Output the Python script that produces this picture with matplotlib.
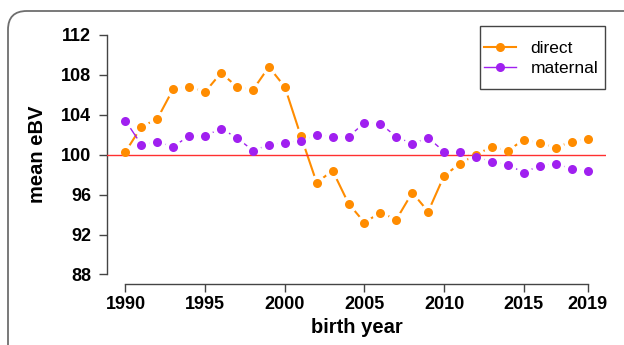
import matplotlib
matplotlib.use("Agg")
import matplotlib.pyplot as plt
import matplotlib.patches as mpatches
from matplotlib.lines import Line2D
import numpy as np

# ── Data ────────────────────────────────────────────────────────────────
years = np.arange(1990, 2020)
direct = [100.3, 102.8, 103.6, 106.6, 106.8, 106.3, 108.2, 106.8, 106.5, 108.8,
          106.8, 101.9, 97.2, 98.4, 95.1, 93.2, 94.2, 93.5, 96.2, 94.3,
          97.9, 99.1, 100.0, 100.8, 100.4, 101.5, 101.2, 100.7, 101.3, 101.6]
maternal = [103.4, 101.0, 101.3, 100.8, 101.9, 101.9, 102.6, 101.7, 100.4, 101.0,
            101.2, 101.4, 102.0, 101.8, 101.8, 103.2, 103.1, 101.8, 101.1, 101.7,
            100.3, 100.3, 99.8, 99.3, 99.0, 98.2, 98.9, 99.1, 98.6, 98.4]
yticks = [88, 92, 96, 100, 104, 108, 112]
xticks = [1990, 1995, 2000, 2005, 2010, 2015, 2019]

ORANGE = "#FF8C00"
PURPLE = "#A020F0"
RED = "#FF3030"
FRAME = "#6E6E6E"
AXIS = "#444444"

plt.rcParams.update({
    "font.family": ["Liberation Sans", "DejaVu Sans"],
    "font.size": 12,
})

W, H = 624, 345
fig = plt.figure(figsize=(W / 100, H / 100), dpi=100)
ax = fig.add_axes([107 / W, 1 - 284 / H, (606 - 107) / W, (284 - 25.4) / H])

# outer rounded frame, cropped at right and bottom
frame = mpatches.FancyBboxPatch((8 / W, -40 / H), 640 / W, (H - 11 + 40) / H,
                                boxstyle="round,pad=0,rounding_size=0.03",
                                transform=fig.transFigure, facecolor="none",
                                edgecolor=FRAME, linewidth=1.3, clip_on=False,
                                mutation_aspect=W / H)
fig.patches.append(frame)

# lines with gaps around the points (like R type="b")
ax.plot(years, direct, color=ORANGE, lw=1.5, zorder=2)
ax.plot(years, maternal, color=PURPLE, lw=1.0, zorder=2)
for s in (direct, maternal):
    ax.plot(years, s, ls="none", marker="o", ms=11, mfc="white", mec="white", zorder=3)
ax.axhline(100, color=RED, lw=1.0, zorder=4)
ax.plot(years, direct, ls="none", marker="o", ms=6.5, mfc=ORANGE, mec="none", zorder=5)
ax.plot(years, maternal, ls="none", marker="o", ms=6.5, mfc=PURPLE, mec="none", zorder=5)

ax.set_xlim(1990 - 0.04 * 29, 2019 + 0.04 * 29)
ax.set_ylim(88 - 0.96, 112 + 0.96)
ax.set_xticks(xticks)
ax.set_yticks(yticks)
ax.set_xticklabels([str(t) for t in xticks], fontsize=13, fontweight="bold")
ax.set_yticklabels([str(t) for t in yticks], fontsize=13, fontweight="bold")
ax.tick_params(axis="both", direction="out", length=5.5, width=1, color=AXIS)
ax.tick_params(axis="y", pad=6)
ax.tick_params(axis="x", pad=3)

for side in ("top", "right"):
    ax.spines[side].set_visible(False)
ax.spines["left"].set_bounds(88, 112)
ax.spines["bottom"].set_bounds(1990, 2019)
for side in ("left", "bottom"):
    ax.spines[side].set_color(AXIS)
    ax.spines[side].set_linewidth(1)

ax.set_ylabel("mean eBV", fontsize=14.5, fontweight="bold", labelpad=10)
ax.set_xlabel("birth year", fontsize=14.5, fontweight="bold", labelpad=4)

# legend box drawn separately (R-style padding: more vertical than horizontal)
box = mpatches.Rectangle((480 / W, 1 - 89 / H), 125 / W, 63 / H,
                         transform=fig.transFigure, facecolor="white",
                         edgecolor=AXIS, linewidth=1, zorder=6, clip_on=False)
ax.add_patch(box)
handles = [Line2D([], [], color=ORANGE, lw=1.5, marker="o", ms=6.5, mec="none"),
           Line2D([], [], color=PURPLE, lw=1.0, marker="o", ms=6.5, mec="none")]
leg = ax.legend(handles, ["direct", "maternal"], loc="center",
                bbox_to_anchor=(541 / W, 1 - 58.5 / H),
                bbox_transform=fig.transFigure, frameon=False,
                fontsize=12.5, numpoints=1, borderpad=0, borderaxespad=0,
                handlelength=1.85, handletextpad=0.85, labelspacing=0.3)
leg.set_zorder(7)

fig.savefig("out.png", dpi=100)
